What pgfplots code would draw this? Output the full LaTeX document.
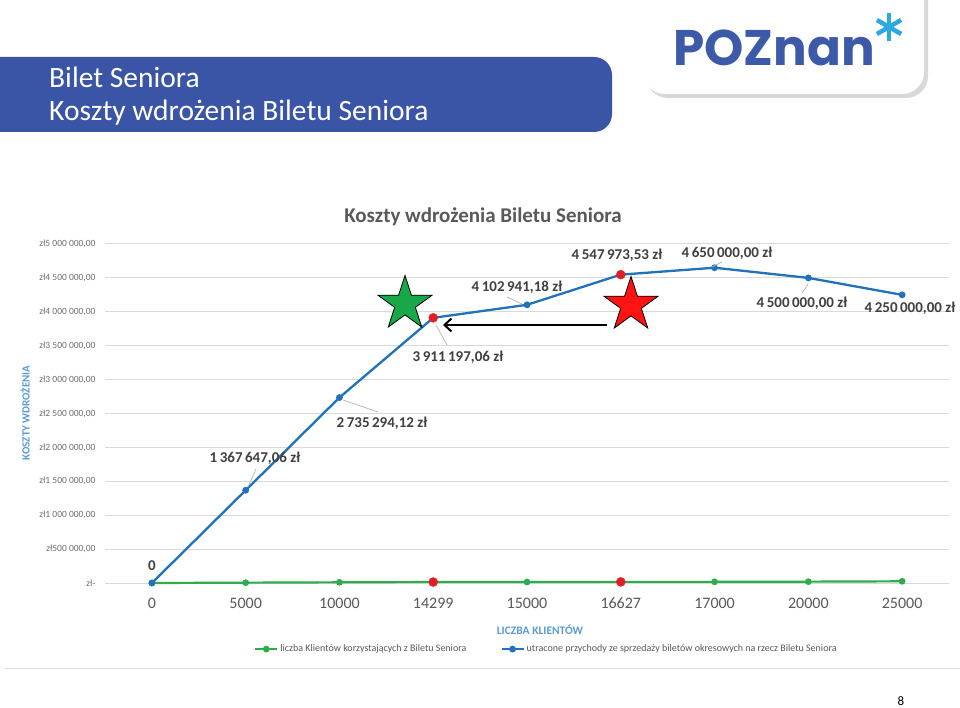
\documentclass[border=0pt]{standalone}
\usepackage{pgfplots}
\pgfplotsset{compat=1.18}
\usepackage{fontspec}
\setmainfont{Carlito}
\newfontfamily\logofont{Poppins}
\usetikzlibrary{shapes.geometric,arrows.meta}
\definecolor{barblue}{RGB}{58,84,166}
\definecolor{logoblue}{RGB}{61,90,169}
\definecolor{logolight}{RGB}{46,168,224}
\definecolor{serblue}{RGB}{33,114,185}
\definecolor{sergreen}{RGB}{46,173,75}
\definecolor{markred}{RGB}{225,30,35}
\definecolor{gridgray}{RGB}{217,217,217}
\definecolor{ticktext}{RGB}{110,110,110}
\definecolor{labeltext}{RGB}{64,64,64}
\definecolor{titlegray}{RGB}{89,89,89}
\definecolor{axlabblue}{RGB}{91,155,213}
\definecolor{starred}{RGB}{255,20,20}
\definecolor{stargreen}{RGB}{24,168,74}
\begin{document}
\begin{tikzpicture}
\fill[white] (0pt,0pt) rectangle (960pt,707pt);
\path[use as bounding box] (0pt,0pt) rectangle (960pt,707pt);
\begin{scope}[x=1pt,y=-1pt,shift={(0pt,707pt)}]
  % header bar
  \fill[barblue, rounded corners=18pt] (-30,57) rectangle (612,132);
  \node[anchor=base west, inner sep=0pt, text=white, font=\fontsize{29.5}{29.5}\selectfont] at (49,88) {Bilet Seniora};
  \node[anchor=base west, inner sep=0pt, text=white, font=\fontsize{29.5}{29.5}\selectfont] at (49,121) {Koszty wdrożenia Biletu Seniora};
  % logo box
  \fill[gray!30, rounded corners=22pt] (646,-30) rectangle (928,98);
  \fill[white, rounded corners=22pt] (643,-30) rectangle (924,94);
  \node[anchor=base west, inner sep=0pt, text=logoblue, font=\logofont\bfseries\fontsize{50}{50}\selectfont] at (673,66) {POZnan};
  \begin{scope}[shift={(889,27)}]
    \foreach \a in {90,30,150} {
      \draw[logolight, line width=4.5pt] (\a:14) -- (\a+180:14);
    }
  \end{scope}
  % bottom border of chart area
  \draw[gridgray, line width=1pt] (5,668) -- (960,668);
  % chart title
  \node[font=\fontsize{21}{21}\selectfont\bfseries, text=titlegray] at (483,217) {Koszty wdrożenia Biletu Seniora};
  % axis titles
  \node[font=\fontsize{11.5}{11.5}\selectfont\bfseries, text=axlabblue] at (540,630) {LICZBA KLIENTÓW};
  \node[font=\fontsize{11}{11}\selectfont\bfseries, text=axlabblue, rotate=90] at (25,413) {KOSZTY WDROŻENIA};
  % page number
  \node[font=\fontsize{13}{13}\selectfont] at (901,701) {8};
\end{scope}

\begin{axis}[
  at={(105pt,124pt)}, anchor=south west,
  scale only axis, width=844pt, height=339pt,
  xmin=-0.5, xmax=8.5, ymin=0, ymax=5000000,
  clip=false,
  axis line style={draw=none},
  major tick style={draw=none},
  ymajorgrids, grid style={color=gridgray, line width=1pt},
  xtick={0,1,2,3,4,5,6,7,8},
  xticklabels={0,5000,10000,14299,15000,16627,17000,20000,25000},
  xticklabel style={font=\fontsize{16}{16}\selectfont, text=titlegray, anchor=center, yshift=-20pt},
  ytick={0,500000,1000000,1500000,2000000,2500000,3000000,3500000,4000000,4500000,5000000},
  yticklabels={{zł-},{zł500 000,00},{zł1 000 000,00},{zł1 500 000,00},{zł2 000 000,00},{zł2 500 000,00},{zł3 000 000,00},{zł3 500 000,00},{zł4 000 000,00},{zł4 500 000,00},{zł5 000 000,00}},
  yticklabel style={font=\fontsize{9.5}{9.5}\selectfont, text=ticktext, xshift=-6pt},
  scaled y ticks=false,
  /pgf/number format/assume math mode=true,
  legend style={draw=none, fill=none, font=\fontsize{10}{10}\selectfont, text=titlegray,
    at={(0.523,-0.195)}, anchor=center, legend columns=2,
    /tikz/every even column/.append style={column sep=32pt}},
  legend image code/.code={\draw[mark repeat=2,mark phase=2] plot coordinates {(0pt,0pt)(11pt,0pt)(22pt,0pt)};},
]
\addplot[sergreen, line width=2.2pt, mark=*, mark size=2.2pt, mark options={solid}]
  coordinates {(0,0) (1,5000) (2,10000) (3,14299) (4,15000) (5,16627) (6,17000) (7,20000) (8,25000)};
\addlegendentry{liczba Klientów korzystających z Biletu Seniora}
\addplot[serblue, line width=2.3pt, mark=*, mark size=2.2pt, mark options={solid}]
  coordinates {(0,0) (1,1367647.06) (2,2735294.12) (3,3911197.06) (4,4102941.18) (5,4547973.53) (6,4650000) (7,4500000) (8,4250000)};
\addlegendentry{utracone przychody ze sprzedaży biletów okresowych na rzecz Biletu Seniora}
\addplot[only marks, mark=*, mark size=4.5pt, color=markred, forget plot]
  coordinates {(3,14299) (5,16627) (3,3911197.06) (5,4547973.53)};
\end{axis}

\begin{scope}[x=1pt,y=-1pt,shift={(0pt,707pt)}]
  % leader lines
  \draw[gray!60, line width=0.7pt] (248,487) -- (256,469);
  \draw[gray!60, line width=0.7pt] (343,400) -- (378,412);
  \draw[gray!60, line width=0.7pt] (436,325) -- (447,345);
  \draw[gray!60, line width=0.7pt] (507,297) -- (522,304);
  \draw[gray!60, line width=0.7pt] (712,267) -- (722,262);
  \draw[gray!60, line width=0.7pt] (808,284) -- (802,293);
  % data labels
  \begin{scope}[every node/.style={font=\fontsize{15}{15}\selectfont\bfseries, text=labeltext, inner sep=0pt}]
    \node at (152,566) {0};
    \node at (255,458) {1\,367\,647,06 zł};
    \node at (382,423) {2\,735\,294,12 zł};
    \node at (458,357) {3\,911\,197,06 zł};
    \node at (517,287) {4\,102\,941,18 zł};
    \node at (617,255) {4\,547\,973,53 zł};
    \node at (727,253) {4\,650\,000,00 zł};
    \node at (802,303) {4\,500\,000,00 zł};
    \node at (910,308) {4\,250\,000,00 zł};
  \end{scope}
  % stars
  \node[star, star points=5, star point ratio=2.618, minimum size=57pt, inner sep=0pt, fill=stargreen, draw=black, line width=0.8pt] at (405,304) {};
  \node[star, star points=5, star point ratio=2.618, minimum size=57pt, inner sep=0pt, fill=starred, draw=black, line width=0.8pt] at (631,305) {};
  % arrow
  \draw[black, line width=2pt, -{Straight Barb[length=7pt,width=13pt]}] (607,325) -- (443,325);
\end{scope}
\end{tikzpicture}
\end{document}
